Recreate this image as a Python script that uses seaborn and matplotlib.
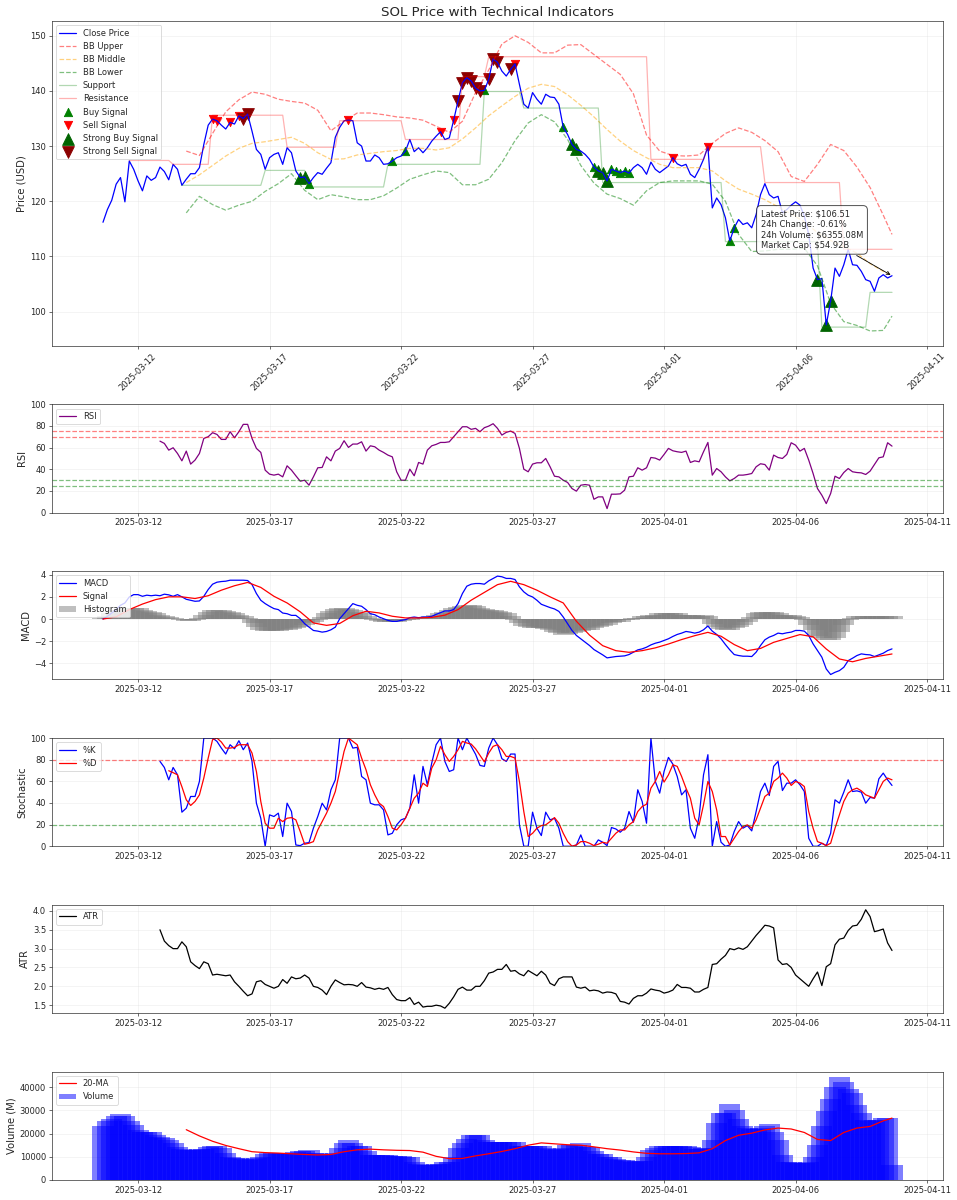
import numpy as np
import pandas as pd
import seaborn as sns
import matplotlib
matplotlib.use("Agg")
import matplotlib.pyplot as plt
import matplotlib.dates as mdates

# -----------------------------
# DATA (SOL, 4h candles)
# -----------------------------
start_time = "2025-03-10 16:00"
n_points = 181

close = [
    116.2, 118.5, 120.2, 123.1, 124.3, 119.9, 127.3, 125.8, 123.7, 121.9,
    124.6, 123.8, 124.3, 126.2, 125.4, 123.9, 126.7, 125.8, 122.9, 124.0,
    125.0, 125.0, 126.1, 130.3, 133.8, 134.9, 134.6, 133.8, 133.1, 134.3,
    134.0, 135.5, 135.0, 135.8, 132.7, 129.4, 128.5, 125.8, 127.9, 128.5,
    128.8, 126.7, 129.7, 128.8, 125.5, 124.3, 124.4, 123.2, 124.3, 125.2,
    124.9, 126.0, 127.0, 131.6, 133.4, 134.6, 134.7, 134.6, 130.6, 130.0,
    127.3, 127.3, 128.4, 127.9, 126.7, 126.8, 127.3, 127.9, 128.2, 129.1,
    131.2, 129.0, 129.7, 128.8, 129.7, 130.9, 131.8, 132.6, 131.2, 131.5,
    134.7, 138.2, 141.5, 142.4, 141.8, 140.5, 140.0, 140.1, 142.1, 145.8,
    145.2, 143.6, 142.7, 143.9, 144.9, 141.2, 137.6, 136.9, 139.7, 138.5,
    137.6, 139.4, 138.9, 138.8, 137.6, 133.4, 132.1, 130.3, 129.4, 129.1,
    128.5, 127.6, 126.2, 125.5, 125.2, 123.7, 125.8, 125.5, 125.2, 125.5,
    125.1, 126.1, 126.7, 126.1, 124.9, 127.1, 125.8, 125.2, 125.8, 126.4,
    127.9, 126.8, 126.4, 126.7, 124.9, 124.3, 125.8, 127.6, 129.9, 118.8,
    120.6, 119.4, 117.0, 112.8, 115.2, 116.7, 115.8, 116.1, 115.2, 117.6,
    121.2, 123.2, 121.2, 120.6, 120.9, 117.9, 118.5, 119.3, 119.9, 119.3,
    117.3, 114.0, 107.9, 105.8, 106.0, 97.6, 101.9, 107.9, 106.4, 108.5,
    111.3, 108.5, 108.4, 107.3, 105.8, 105.5, 103.7, 106.1, 106.7, 106.1,
    106.51,
]

# Bollinger bands, sampled every 12h from index 19
bb_idx = list(range(19, 179, 3)) + [180]
bb_upper = [
    129.1, 128.3, 132.3, 136.2, 138.4, 139.8, 139.4, 138.5, 138.1, 137.8,
    136.5, 132.8, 134.5, 136.0, 136.0, 135.7, 135.3, 135.1, 134.7, 133.6,
    132.5, 134.5, 139.7, 143.8, 148.5, 150.0, 148.8, 146.9, 146.9, 148.3,
    148.4, 146.6, 144.8, 143.0, 139.5, 132.0, 129.1, 128.3, 128.2, 128.4,
    130.5, 132.3, 133.3, 132.5, 131.0, 129.0, 124.5, 123.6, 126.7, 130.3,
    129.2, 126.2, 122.5, 117.5, 114.0,
]
bb_middle = [
    123.4, 124.8, 126.5, 128.2, 129.6, 130.5, 130.8, 131.2, 131.6, 130.5,
    128.8, 127.6, 127.7, 128.4, 128.7, 129.0, 129.2, 129.6, 129.6, 129.3,
    129.7, 131.3, 133.3, 135.5, 137.3, 139.0, 140.5, 141.2, 140.8, 139.3,
    137.4, 135.3, 133.0, 130.9, 129.2, 127.9, 126.7, 126.1, 126.1, 126.1,
    125.5, 123.7, 122.2, 121.3, 120.3, 119.0, 117.7, 116.3, 114.3, 112.9,
    111.8, 110.6, 108.7, 107.3, 106.6,
]
bb_lower = [
    117.9, 120.9, 119.4, 118.4, 119.3, 120.0, 121.8, 123.2, 125.0, 122.0,
    120.3, 121.2, 120.8, 120.3, 120.3, 121.0, 122.4, 124.0, 124.8, 125.5,
    125.2, 123.0, 123.0, 124.0, 127.0, 131.0, 134.2, 135.7, 134.4, 131.2,
    126.5, 123.3, 121.3, 120.5, 119.3, 121.9, 123.4, 123.7, 123.7, 123.7,
    123.1, 120.0, 114.0, 110.9, 111.0, 111.3, 111.3, 111.5, 108.3, 101.5,
    98.2, 97.5, 96.5, 96.6, 99.2,
]

# support / resistance levels (breakpoints)
sup_idx = [18, 36, 37, 46, 47, 64, 65, 86, 87, 95, 96, 113, 114, 141, 142, 163, 164, 174, 175, 180]
sup_val = [122.9, 122.9, 125.6, 125.6, 122.6, 122.6, 126.7, 126.7, 139.9, 139.9,
           136.9, 136.9, 123.4, 123.4, 112.7, 112.7, 97.2, 97.2, 103.5, 103.5]
res_idx = [6, 15, 16, 24, 25, 41, 42, 53, 54, 68, 69, 81, 82, 87, 88, 124, 125, 137, 138, 150, 151, 168, 169, 180]
res_val = [127.4, 127.4, 126.7, 126.7, 135.6, 135.6, 129.8, 129.8, 134.6, 134.6,
           131.2, 131.2, 142.6, 142.6, 146.2, 146.2, 127.6, 127.6, 129.9, 129.9,
           123.4, 123.4, 111.3, 111.3]

# trade signals (candle index)
buy_idx = [47, 66, 69, 87, 105, 112, 116, 117, 118, 119, 120, 143, 144]
sell_idx = [25, 26, 29, 31, 56, 77, 80, 94, 130, 138]
strong_buy_idx = [45, 46, 107, 108, 113, 114, 115, 163, 165, 166]
strong_sell_idx = [32, 33, 81, 82, 83, 84, 85, 86, 88, 89, 90, 93]

# RSI from index 13
rsi = [
    66.0, 63.9, 57.7, 59.9, 54.6, 47.8, 56.8, 44.8, 48.5, 54.6,
    68.5, 70.1, 73.8, 72.2, 67.6, 67.6, 74.7, 69.1, 74.7, 81.5,
    81.5, 68.5, 59.3, 55.6, 39.2, 35.5, 34.6, 35.5, 33.0, 43.2,
    39.2, 34.0, 29.0, 29.9, 25.3, 33.0, 41.4, 41.7, 51.5, 47.8,
    56.8, 59.3, 66.4, 60.2, 63.3, 63.3, 65.4, 56.8, 61.7, 60.8,
    57.7, 55.6, 53.1, 51.5, 37.7, 29.9, 29.9, 40.1, 34.0, 46.3,
    44.8, 57.7, 61.7, 63.0, 64.8, 64.8, 65.4, 70.1, 74.7, 79.3,
    79.3, 76.9, 77.8, 74.7, 78.4, 79.9, 82.1, 77.8, 71.6, 74.1,
    75.3, 73.1, 59.3, 40.1, 37.7, 44.8, 46.0, 46.0, 50.0, 42.3,
    33.6, 33.0, 29.9, 27.8, 22.2, 19.8, 25.3, 25.9, 25.3, 12.3,
    14.5, 14.5, 3.7, 17.0, 17.0, 17.3, 20.7, 33.0, 33.6, 41.4,
    39.2, 41.4, 50.9, 50.3, 48.5, 53.7, 59.3, 57.1, 56.2, 55.6,
    56.8, 46.3, 47.8, 46.9, 56.2, 64.8, 34.6, 40.7, 37.7, 33.0,
    29.3, 31.5, 34.6, 34.6, 35.2, 36.1, 42.3, 45.1, 44.4, 39.2,
    53.1, 50.9, 50.0, 53.7, 64.5, 62.3, 56.8, 59.3, 48.5, 36.1,
    22.2, 16.0, 8.3, 17.6, 33.6, 31.5, 37.0, 40.7, 37.7, 37.0,
    36.7, 35.2, 38.3, 44.4, 50.6, 51.5, 64.5, 61.4,
]

macd = [
    0.0, 0.24, 0.54, 0.85, 1.24, 1.45, 1.99, 2.2, 2.2, 2.05,
    2.15, 2.1, 2.15, 2.1, 2.24, 2.18, 2.05, 2.2, 2.0, 1.78,
    1.69, 1.6, 1.63, 2.05, 2.66, 3.14, 3.32, 3.38, 3.41, 3.5,
    3.5, 3.5, 3.5, 3.47, 3.11, 2.3, 1.69, 1.39, 1.15, 0.94,
    0.85, 0.54, 0.48, 0.33, 0.33, 0.03, -0.42, -0.73, -1.03, -1.09,
    -1.18, -1.12, -0.97, -0.73, 0.03, 0.48, 0.94, 1.39, 1.24, 1.15,
    0.85, 0.48, 0.39, 0.18, 0.03, -0.12, -0.21, -0.21, -0.12, -0.06,
    0.12, 0.18, 0.12, 0.18, 0.18, 0.24, 0.42, 0.57, 0.73, 0.73,
    0.85, 1.39, 2.3, 2.96, 3.14, 3.2, 3.2, 3.14, 3.44, 3.66,
    3.87, 3.81, 3.66, 3.66, 3.56, 2.9, 2.45, 2.15, 1.99, 1.69,
    1.33, 1.18, 1.03, 0.91, 0.69, 0.18, -0.42, -1.03, -1.48, -1.78,
    -2.08, -2.39, -2.75, -2.99, -3.23, -3.5, -3.44, -3.38, -3.35, -3.32,
    -3.2, -2.99, -2.78, -2.69, -2.54, -2.33, -2.18, -2.08, -1.93, -1.78,
    -1.57, -1.39, -1.27, -1.12, -1.18, -1.27, -1.18, -0.97, -0.63, -1.09,
    -1.39, -1.78, -2.3, -2.78, -3.2, -3.29, -3.35, -3.35, -3.38, -2.99,
    -2.39, -1.87, -1.63, -1.48, -1.27, -1.33, -1.24, -1.18, -1.03, -1.03,
    -1.09, -1.48, -2.24, -2.84, -3.44, -4.5, -5.0, -4.8, -4.65, -4.35,
    -3.75, -3.53, -3.29, -3.14, -3.2, -3.23, -3.38, -3.23, -3.08, -2.84,
    -2.69,
]
# signal line sampled every 12h
sig_idx = list(range(0, 181, 3))
macd_signal = [
    0.0, 0.2, 0.85, 1.35, 1.75, 2.0, 2.0, 1.85, 2.1, 2.6,
    3.0, 3.3, 2.85, 2.05, 1.45, 0.65, -0.35, -0.57, -0.4, 0.3,
    0.7, 0.55, 0.25, 0.1, 0.1, 0.15, 0.35, 0.85, 1.7, 2.4,
    3.1, 3.4, 3.1, 2.6, 2.0, 1.45, -0.2, -1.45, -2.4, -2.85,
    -3.0, -2.85, -2.6, -2.25, -1.85, -1.5, -1.2, -1.55, -2.3, -2.85,
    -2.65, -2.1, -1.75, -1.4, -1.6, -2.7, -3.6, -3.85, -3.55, -3.35,
    -3.15,
]
macd_hist = [
    0.1, 0.25, 0.5, 0.65, 0.8, 0.9, 0.95, 1.0, 0.95, 0.85,
    0.7, 0.6, 0.5, 0.35, 0.3, 0.2, 0.1, 0.0, -0.1, -0.2,
    -0.2, -0.1, 0.1, 0.4, 0.65, 0.8, 0.8, 0.8, 0.7, 0.65,
    0.55, 0.4, 0.25, 0.05, -0.4, -0.7, -0.95, -1.1, -1.1, -1.1,
    -1.05, -1.0, -0.95, -0.9, -0.8, -0.7, -0.55, -0.4, -0.3, -0.1,
    0.2, 0.5, 0.7, 0.9, 1.0, 0.95, 0.9, 0.8, 0.6, 0.5,
    0.3, 0.1, -0.05, -0.2, -0.25, -0.25, -0.25, -0.25, -0.2, -0.1,
    -0.05, 0.0, 0.05, 0.1, 0.15, 0.25, 0.4, 0.55, 0.65, 0.8,
    0.95, 1.1, 1.2, 1.3, 1.3, 1.15, 1.0, 0.9, 0.85, 0.8,
    0.7, 0.65, 0.5, 0.25, -0.1, -0.4, -0.6, -0.7, -0.8, -0.8,
    -0.85, -0.9, -1.0, -1.2, -1.3, -1.4, -1.35, -1.3, -1.2, -1.1,
    -1.0, -0.95, -0.85, -0.7, -0.65, -0.5, -0.4, -0.3, -0.25, -0.1,
    -0.05, 0.05, 0.1, 0.25, 0.3, 0.35, 0.4, 0.5, 0.5, 0.55,
    0.5, 0.5, 0.4, 0.4, 0.35, 0.35, 0.3, 0.35, 0.25, -0.45,
    -0.7, -0.9, -0.95, -0.95, -0.85, -0.7, -0.55, -0.3, 0.2, 0.5,
    0.65, 0.65, 0.65, 0.6, 0.55, 0.4, 0.35, 0.35, 0.3, 0.2,
    -0.05, -0.55, -1.0, -1.5, -1.7, -1.9, -1.9, -1.7, -1.2, -0.55,
    -0.1, 0.1, 0.25, 0.3, 0.3, 0.3, 0.25, 0.25, 0.25, 0.25,
    0.25,
]

# stochastic %K from index 13, %D from index 15
stoch_k = [
    78.4, 72.8, 61.4, 72.8, 66.0, 31.5, 35.2, 46.0, 46.0, 59.9,
    100, 100, 100, 96.9, 90.7, 85.2, 93.8, 90.1, 97.5, 89.2,
    95.4, 78.4, 39.8, 25.9, 0, 29.0, 27.5, 30.6, 9.0, 39.8,
    32.1, 1.2, 0.6, 2.8, 3.4, 16.7, 27.5, 39.8, 33.6, 52.2,
    61.4, 100, 100, 100, 90.7, 91.4, 64.5, 61.4, 39.8, 38.3,
    38.3, 33.6, 10.5, 12.0, 19.8, 24.4, 25.9, 35.2, 66.0, 39.8,
    73.8, 56.8, 76.9, 93.8, 100, 78.4, 69.1, 70.7, 100, 89.2,
    100, 92.3, 85.0, 74.7, 73.8, 90.7, 100, 93.8, 80.9, 78.4,
    85.2, 85.2, 19.8, 0, 0, 31.5, 16.7, 9.9, 31.5, 24.4,
    25.9, 16.7, 0, 0, 0, 1.2, 10.5, 0, 0, 0,
    5.9, 3.7, 0.6, 17.3, 16.0, 13.0, 16.7, 32.1, 22.2, 52.2,
    41.4, 21.3, 100, 59.9, 49.1, 69.1, 82.1, 75.9, 64.5, 47.5,
    52.2, 16.7, 7.4, 27.5, 66.0, 84.6, 0, 22.8, 3.7, 0,
    1.2, 13.6, 22.8, 16.7, 19.1, 14.2, 32.1, 50.6, 58.3, 46.9,
    73.8, 78.4, 51.5, 58.3, 58.3, 61.4, 56.8, 50.6, 7.4, 0,
    0, 2.8, 0.6, 12.0, 42.9, 39.8, 50.0, 61.4, 50.6, 51.2,
    50.0, 39.8, 45.1, 44.4, 62.3, 67.6, 61.4, 56.2,
]
stoch_d = [
    69.8, 68.0, 66.0, 55.0, 42.9, 37.7, 41.4, 47.5, 63.0, 81.5,
    98.5, 100, 96.3, 90.7, 90.7, 91.4, 93.8, 93.8, 93.8, 86.1,
    69.1, 41.4, 21.3, 16.7, 16.7, 25.9, 22.8, 25.9, 26.5, 24.4,
    13.6, 1.9, 2.8, 4.3, 15.1, 22.8, 30.6, 39.8, 50.6, 69.1,
    87.7, 100, 96.9, 93.8, 81.5, 70.7, 56.8, 47.5, 39.8, 36.7,
    27.5, 16.7, 15.1, 19.8, 25.9, 35.2, 44.4, 49.1, 58.3, 55.2,
    72.2, 79.9, 92.3, 84.6, 78.4, 83.0, 89.2, 96.9, 95.4, 94.4,
    90.0, 84.0, 78.0, 86.1, 92.3, 93.8, 89.2, 83.0, 83.0, 81.5,
    59.9, 32.1, 9.0, 12.0, 16.7, 19.1, 19.8, 22.8, 26.5, 21.3,
    12.0, 4.3, 0, 1.2, 4.3, 4.3, 2.8, 0.6, 1.9, 3.7,
    2.8, 7.4, 12.0, 15.1, 15.1, 19.8, 22.8, 32.1, 36.7, 38.9,
    53.7, 59.9, 69.1, 59.3, 66.0, 75.3, 73.8, 64.5, 53.7, 44.4,
    25.9, 19.8, 38.3, 59.9, 50.6, 33.6, 9.0, 9.0, 1.2, 7.4,
    13.6, 18.2, 19.8, 16.7, 24.4, 35.2, 46.0, 49.1, 59.9, 63.0,
    67.6, 63.0, 56.2, 59.9, 58.3, 55.2, 32.1, 16.7, 4.3, 2.8,
    0.6, 2.8, 16.7, 29.0, 41.4, 49.1, 52.2, 53.7, 51.2, 47.5,
    46.0, 44.4, 52.2, 59.9, 63.0, 61.4,
]

# ATR from index 13
atr = [
    3.5, 3.2, 3.08, 3.0, 3.0, 3.18, 3.05, 2.65, 2.55, 2.47,
    2.65, 2.6, 2.3, 2.32, 2.3, 2.28, 2.3, 2.12, 2.0, 1.87,
    1.75, 1.8, 2.12, 2.15, 2.05, 2.0, 1.95, 2.0, 2.18, 2.08,
    2.25, 2.2, 2.22, 2.3, 2.22, 2.0, 1.97, 1.9, 1.78, 2.0,
    2.17, 2.1, 2.04, 2.05, 2.04, 2.0, 2.1, 1.98, 1.96, 1.92,
    1.95, 1.92, 1.97, 1.78, 1.65, 1.62, 1.62, 1.7, 1.52, 1.58,
    1.45, 1.47, 1.47, 1.5, 1.48, 1.42, 1.55, 1.72, 1.92, 1.98,
    1.9, 1.9, 2.0, 2.0, 2.15, 2.35, 2.38, 2.45, 2.45, 2.58,
    2.4, 2.42, 2.33, 2.28, 2.42, 2.35, 2.28, 2.4, 2.3, 2.08,
    2.02, 2.2, 2.25, 2.25, 2.25, 1.98, 1.95, 1.98, 1.88, 1.9,
    1.88, 1.82, 1.85, 1.84, 1.8, 1.6, 1.58, 1.53, 1.68, 1.75,
    1.75, 1.82, 1.93, 1.9, 1.88, 1.82, 1.85, 1.9, 2.05, 1.97,
    1.97, 1.95, 1.85, 1.85, 1.92, 1.97, 2.58, 2.6, 2.72, 2.82,
    3.0, 2.97, 3.02, 2.98, 3.05, 3.2, 3.35, 3.48, 3.62, 3.6,
    3.55, 2.7, 2.58, 2.6, 2.5, 2.3, 2.2, 2.1, 2.0, 2.2,
    2.38, 2.02, 2.52, 2.6, 3.1, 3.25, 3.28, 3.48, 3.6, 3.62,
    3.78, 4.03, 3.85, 3.45, 3.48, 3.52, 3.15, 2.95,
]

# 24h volume in millions USD
volume = [
    23400, 25300, 26500, 27700, 28600, 27400, 25300, 23800, 21400, 20900,
    20900, 20900, 19500, 18500, 18200, 17300, 15900, 14400, 13300, 13000,
    12800, 13000, 13300, 13300, 14200, 14700, 14700, 13700, 11600, 10100,
    9400, 9400, 9000, 8800, 9000, 9400, 10100, 11100, 11800, 11800,
    11800, 11800, 11800, 11800, 12000, 12700, 12700, 13000, 11800, 11500,
    11000, 10800, 11000, 11500, 13700, 15900, 17300, 15900, 14700, 14700,
    12300, 10800, 10800, 10800, 10800, 10800, 10400, 10400, 10400, 9800,
    9800, 7900, 6900, 6500, 6300, 6500, 6900, 6900, 7900, 7900,
    10100, 13700, 15900, 17600, 19500, 19500, 19500, 17300, 16600, 16600,
    16600, 16600, 16200, 16200, 16200, 14700, 14700, 14700, 14700, 14700,
    14700, 13700, 13200, 13000, 13200, 13700, 15200, 15200, 15200, 15900,
    14200, 14200, 12300, 11300, 11300, 10100, 10100, 9000, 8400, 8400,
    8000, 7800, 8000, 8200, 10100, 13000, 14000, 14700, 14700, 14700,
    14700, 14700, 14700, 14700, 14200, 13500, 13500, 13800, 14000, 17300,
    24500, 28900, 28900, 32900, 30300, 26300, 23100, 22500, 22000, 22000,
    22500, 23500, 24300, 20900, 17300, 10800, 7900, 7900, 7500, 7300,
    7500, 7800, 10100, 15200, 23100, 29600, 34900, 40000, 44500, 42200,
    39300, 37500, 32500, 28900, 26000, 25500, 25800, 26000, 26700, 26700,
    6355,
]
vol_ma = [
    21700, 19000, 16700, 14900, 13500, 12200, 11800, 11600, 11300, 11000,
    10800, 11000, 12200, 13000, 13300, 13000, 12800, 12700, 12000, 10200,
    9200, 9300, 10400, 11300, 12300, 13500, 15000, 16000, 15600, 15200,
    15000, 14300, 13500, 12900, 12100, 11500, 11300, 11300, 11400, 11700,
    13500, 17000, 19300, 20200, 21600, 22400, 22000, 20500, 17500, 17000,
    20500, 22400, 23100, 25500, 26700,
]

latest_price = 106.51
change_24h = -0.61
volume_24h = 6355.08
market_cap = 54.92

tick_dates = ["2025-03-12", "2025-03-17", "2025-03-22", "2025-03-27",
              "2025-04-01", "2025-04-06", "2025-04-11"]

# -----------------------------
# PREP
# -----------------------------
times = pd.date_range(start_time, periods=n_points, freq="4h")
close_s = pd.Series(close, index=times)

# -----------------------------
# PLOT
# -----------------------------
sns.set_style("ticks")
plt.rcParams["font.family"] = ["DejaVu Sans"]

fig, axes = plt.subplots(
    6, 1, figsize=(15.95, 20), dpi=60, sharex=True,
    gridspec_kw={"height_ratios": [3, 1, 1, 1, 1, 1]}
)
fig.subplots_adjust(left=0.0543, right=0.9854, top=0.9825, bottom=0.0167, hspace=0.406)
ax1, ax2, ax3, ax4, ax5, ax6 = axes

# price + bands
sns.lineplot(x=times, y=close, ax=ax1, color="blue", linewidth=1.5, label="Close Price")
sns.lineplot(x=times[bb_idx], y=bb_upper, ax=ax1, color="r", linestyle="--", alpha=0.5, label="BB Upper")
sns.lineplot(x=times[bb_idx], y=bb_middle, ax=ax1, color="orange", linestyle="--", alpha=0.5, label="BB Middle")
sns.lineplot(x=times[bb_idx], y=bb_lower, ax=ax1, color="g", linestyle="--", alpha=0.5, label="BB Lower")
sns.lineplot(x=times[sup_idx], y=sup_val, ax=ax1, color="g", alpha=0.3, label="Support")
sns.lineplot(x=times[res_idx], y=res_val, ax=ax1, color="r", alpha=0.3, label="Resistance")

ax1.scatter(times[buy_idx], close_s.iloc[buy_idx], marker="^", color="green", s=100, label="Buy Signal")
ax1.scatter(times[sell_idx], close_s.iloc[sell_idx], marker="v", color="red", s=100, label="Sell Signal")
ax1.scatter(times[strong_buy_idx], close_s.iloc[strong_buy_idx], marker="^", color="darkgreen", s=200, label="Strong Buy Signal")
ax1.scatter(times[strong_sell_idx], close_s.iloc[strong_sell_idx], marker="v", color="darkred", s=200, label="Strong Sell Signal")

info = (f"Latest Price: ${latest_price:.2f}\n"
        f"24h Change: {change_24h:.2f}%\n"
        f"24h Volume: ${volume_24h:.2f}M\n"
        f"Market Cap: ${market_cap:.2f}B")
ax1.annotate(info, xy=(times[-1], close[-1]), xytext=(-96, 55), textcoords="offset points",
             ha="center", va="center", multialignment="left", fontsize=10,
             bbox=dict(boxstyle="round,pad=0.5", fc="white", ec="black", alpha=0.8),
             arrowprops=dict(arrowstyle="->", color="black"))

ax1.set_title("SOL Price with Technical Indicators", fontsize=16)
ax1.set_ylabel("Price (USD)", fontsize=12)
ax1.legend(loc="upper left")

# RSI
sns.lineplot(x=times[13:], y=rsi, ax=ax2, color="purple", label="RSI")
ax2.axhline(70, color="r", linestyle="--", alpha=0.5)
ax2.axhline(75, color="r", linestyle="--", alpha=0.5)
ax2.axhline(30, color="g", linestyle="--", alpha=0.5)
ax2.axhline(25, color="g", linestyle="--", alpha=0.5)
ax2.set_ylim(0, 100)
ax2.set_ylabel("RSI", fontsize=12)
ax2.legend(loc="upper left")

# MACD
sns.lineplot(x=times, y=macd, ax=ax3, color="blue", label="MACD")
sns.lineplot(x=times[sig_idx], y=macd_signal, ax=ax3, color="red", label="Signal")
ax3.bar(times, macd_hist, width=0.8, color="gray", alpha=0.5, linewidth=0, label="Histogram")
ax3.set_ylabel("MACD", fontsize=12)
ax3.legend(loc="upper left")

# Stochastic
sns.lineplot(x=times[13:], y=stoch_k, ax=ax4, color="blue", label="%K")
sns.lineplot(x=times[15:], y=stoch_d, ax=ax4, color="red", label="%D")
ax4.axhline(80, color="r", linestyle="--", alpha=0.5)
ax4.axhline(20, color="g", linestyle="--", alpha=0.5)
ax4.set_ylim(0, 100)
ax4.set_ylabel("Stochastic", fontsize=12)
ax4.legend(loc="upper left")

# ATR
sns.lineplot(x=times[13:], y=atr, ax=ax5, color="black", label="ATR")
ax5.set_ylabel("ATR", fontsize=12)
ax5.legend(loc="upper left")

# Volume
ax6.bar(times, volume, width=0.8, color="blue", alpha=0.5, linewidth=0, label="Volume")
sns.lineplot(x=times[bb_idx], y=vol_ma, ax=ax6, color="red", label="20-MA")
ax6.set_ylabel("Volume (M)", fontsize=12)
ax6.legend(loc="upper left")

ax6.set_xticks(pd.to_datetime(tick_dates))
ax6.xaxis.set_major_formatter(mdates.DateFormatter("%Y-%m-%d"))
for ax in axes:
    ax.grid(True, alpha=0.3)
    ax.set_xlabel("")
    ax.tick_params(labelbottom=True)
ax1.tick_params(axis="x", labelrotation=45)

plt.savefig("out.png", dpi=60)
